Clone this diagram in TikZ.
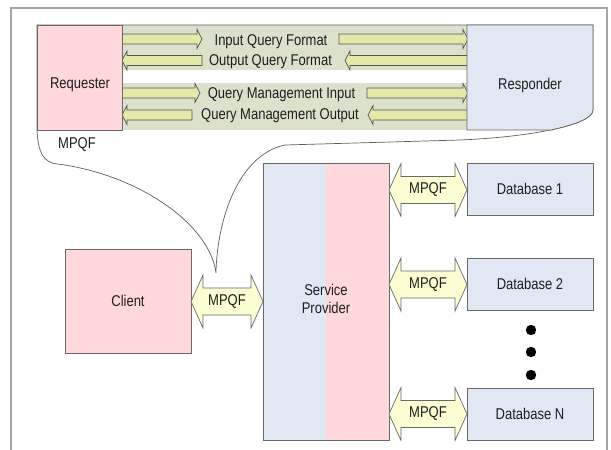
\documentclass[tikz,border=0pt]{standalone}
\usepackage{fontspec}
\usepackage{graphicx}
\setmainfont{Liberation Sans}
\definecolor{pinkf}{RGB}{255,216,219}
\definecolor{bluef}{RGB}{225,232,244}
\definecolor{bandf}{RGB}{220,225,203}
\definecolor{arrf}{RGB}{228,232,168}
\definecolor{dblf}{RGB}{253,253,212}
\definecolor{edgec}{RGB}{105,105,105}
\definecolor{framec}{RGB}{165,165,165}
\definecolor{txt}{RGB}{30,30,30}
\newcommand{\mytx}[1]{\scalebox{1}[1.2]{#1}}
\newcommand{\myrarrow}[3]{\draw[sarrow] (#1,#3-5) -- (#2-5,#3-5) -- (#2-5,#3-9.5) -- (#2,#3) -- (#2-5,#3+9.5) -- (#2-5,#3+5) -- (#1,#3+5) -- cycle;}
\newcommand{\mylarrow}[3]{\draw[sarrow] (#2,#3-5) -- (#1+5,#3-5) -- (#1+5,#3-9.5) -- (#1,#3) -- (#1+5,#3+9.5) -- (#1+5,#3+5) -- (#2,#3+5) -- cycle;}
\newcommand{\mydblarrow}[3]{\draw[darrow] (#1,#3) -- (#1+12,#3-26.5) -- (#1+12,#3-13.5) -- (#2-12,#3-13.5) -- (#2-12,#3-26.5) -- (#2,#3) -- (#2-12,#3+26.5) -- (#2-12,#3+13.5) -- (#1+12,#3+13.5) -- (#1+12,#3+26.5) -- cycle;}
\begin{document}
\begin{tikzpicture}[x=1pt,y=-1pt,
  box/.style={draw=edgec, line width=0.8pt, inner sep=0pt},
  lbl/.style={text=txt, font=\fontsize{13}{15}\selectfont, inner sep=0pt, align=center},
  sarrow/.style={draw=edgec!80!black, line width=0.7pt, fill=arrf},
  darrow/.style={draw=edgec, line width=0.7pt, fill=dblf},
  calloutline/.style={draw=edgec!90!black, line width=0.7pt},
  framestyle/.style={draw=framec, line width=1.4pt}]
\useasboundingbox (0,0) rectangle (611,450);
\fill[white] (0,0) rectangle (611,450);
\draw[framestyle] (11,8) rectangle (607,480);
% callout
\def\calloutpath{(37,25) -- (593,25) -- (593,110) .. controls (593,125) and (530,137) .. (460,140) -- (285,145) .. controls (238,155) and (217,220) .. (216,273) .. controls (210,225) and (140,175) .. (58,164) .. controls (42,163) and (38,150) .. (37,130) -- cycle}
\fill[white] \calloutpath;
\fill[bandf] (122,25) rectangle (467,70);
\fill[bandf] (122,83) rectangle (467,130);
\draw[calloutline] \calloutpath;
% band arrows
\myrarrow{121}{202}{39}
\myrarrow{339}{468}{39}
\mylarrow{122}{202}{60.5}
\mylarrow{345}{468}{60.5}
\myrarrow{121}{200}{93}
\myrarrow{367}{468}{93}
\mylarrow{122}{192}{115}
\mylarrow{368}{468}{115}
\node[lbl] (iqf) at (271,42) {\mytx{Input Query Format}};
\node[lbl] (oqf) at (270.5,61.5) {\mytx{Output Query Format}};
\node[lbl] (qmi) at (281.5,94.5) {\mytx{Query Management Input}};
\node[lbl] (qmo) at (280,116) {\mytx{Query Management Output}};
% requester / responder
\node[box, fill=pinkf, minimum width=85pt, minimum height=105pt] (req) at (79.5,77.5) {};
\node[lbl] (reqt) at (80,85) {\mytx{Requester}};
\draw[box, fill=bluef] (467,25) -- (593,25) -- (593,110) .. controls (593,117.5) and (577.25,124.25) .. (552.75,129.5) -- (552.75,130) -- (467,130) -- cycle;
\node[lbl] (rest) at (530,85) {\mytx{Responder}};
\node[lbl] (mpqfc) at (77,145) {\mytx{MPQF}};
% client
\node[box, fill=pinkf, minimum width=126pt, minimum height=104pt] (cli) at (128,301) {};
\node[lbl] (clit) at (128,301) {\mytx{Client}};
% service provider
\fill[bluef] (263,163) rectangle (326,440);
\fill[pinkf] (326,163) rectangle (389,440);
\node[box, minimum width=126pt, minimum height=277pt] (sp) at (326,301.5) {};
\node[lbl] (spt) at (326,301) {\mytx{\begin{tabular}{@{}c@{}}Service\\Provider\end{tabular}}};
% databases
\node[box, fill=bluef, minimum width=126pt, minimum height=52pt] (db1) at (530,189) {};
\node[box, fill=bluef, minimum width=126pt, minimum height=52pt] (db2) at (530,284) {};
\node[box, fill=bluef, minimum width=126pt, minimum height=52pt] (dbn) at (530,414) {};
\node[lbl] (db1t) at (db1) {\mytx{Database 1}};
\node[lbl] (db2t) at (db2) {\mytx{Database 2}};
\node[lbl] (dbnt) at (dbn) {\mytx{Database N}};
% double arrows
\mydblarrow{191}{263}{301.5}
\mydblarrow{389}{467}{190}
\mydblarrow{389}{467}{284.5}
\mydblarrow{389}{467}{414}
\node[lbl] (m0) at (227,301.5) {\mytx{MPQF}};
\node[lbl] (m1) at (428,190) {\mytx{MPQF}};
\node[lbl] (m2) at (428,284.5) {\mytx{MPQF}};
\node[lbl] (m3) at (428,414) {\mytx{MPQF}};
% dots
\fill[black] (531,330) circle (5.2pt);
\fill[black] (531,352) circle (5.2pt);
\fill[black] (531,375) circle (5.2pt);
\end{tikzpicture}
\end{document}
